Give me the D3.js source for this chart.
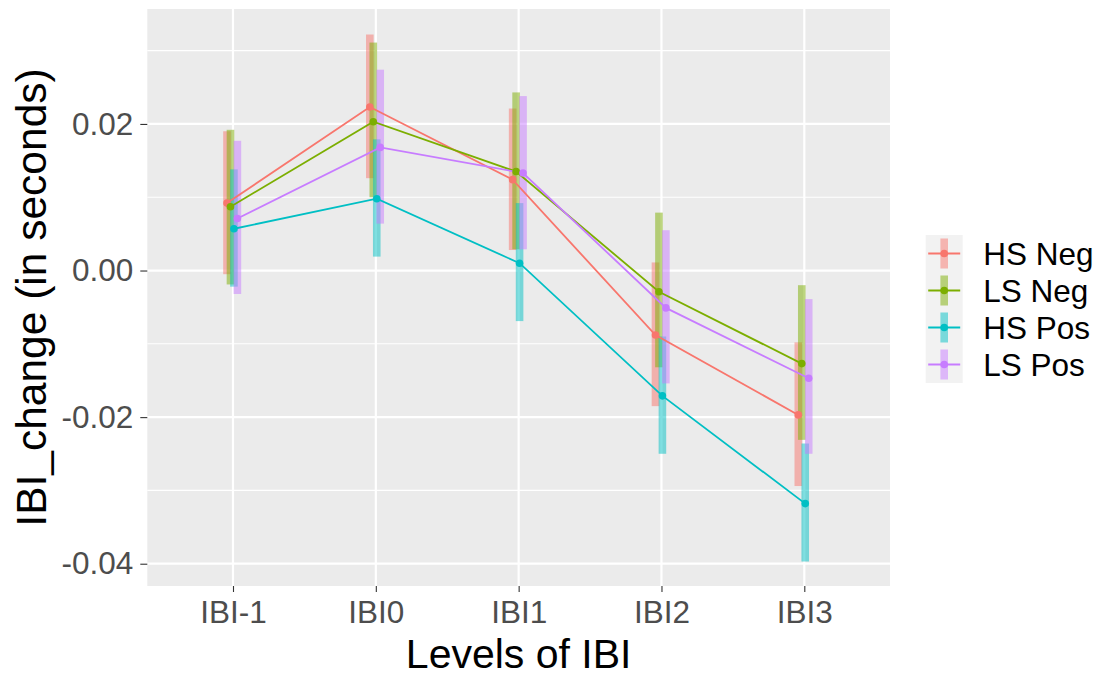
<!DOCTYPE html>
<html>
<head>
<meta charset="utf-8">
<script src="https://cdn.jsdelivr.net/npm/d3@7"></script>
<style>
  body { margin: 0; background: #ffffff; }
  svg { display: block; font-family: "Liberation Sans", Arial, sans-serif; }
</style>
</head>
<body>
<div id="grafico"></div>
<script>
// Datos del gráfico
const niveles = ["IBI-1", "IBI0", "IBI1", "IBI2", "IBI3"];
const grupos = ["HS Neg", "LS Neg", "HS Pos", "LS Pos"];
const colores = ["#F8766D", "#7CAE00", "#00BFC4", "#C77CFF"];

const hsNegMedia = [0.0092, 0.0223, 0.0124, -0.0088, -0.0197];
const hsNegInf = [-0.0005, 0.0126, 0.0028, -0.0185, -0.0294];
const hsNegSup = [0.0190, 0.0322, 0.0221, 0.0011, -0.0098];

const lsNegMedia = [0.0087, 0.0203, 0.0135, -0.0029, -0.0127];
const lsNegInf = [-0.0019, 0.0100, 0.0029, -0.0132, -0.0231];
const lsNegSup = [0.0192, 0.0311, 0.0243, 0.0079, -0.0020];

const hsPosMedia = [0.0057, 0.0098, 0.0010, -0.0171, -0.0318];
const hsPosInf = [-0.0022, 0.0019, -0.0069, -0.0250, -0.0397];
const hsPosSup = [0.0138, 0.0179, 0.0092, -0.0090, -0.0236];

const lsPosMedia = [0.0071, 0.0168, 0.0133, -0.0051, -0.0147];
const lsPosInf = [-0.0032, 0.0064, 0.0029, -0.0154, -0.0250];
const lsPosSup = [0.0177, 0.0274, 0.0238, 0.0055, -0.0039];

const ticksY = [-0.04, -0.02, 0.00, 0.02];
const ticksMenoresY = [-0.03, -0.01, 0.01, 0.03];

// Armar las series
const series = [
  { grupo: grupos[0], color: colores[0], media: hsNegMedia, inf: hsNegInf, sup: hsNegSup },
  { grupo: grupos[1], color: colores[1], media: lsNegMedia, inf: lsNegInf, sup: lsNegSup },
  { grupo: grupos[2], color: colores[2], media: hsPosMedia, inf: hsPosInf, sup: hsPosSup },
  { grupo: grupos[3], color: colores[3], media: lsPosMedia, inf: lsPosInf, sup: lsPosSup }
];

const ancho = 1101;
const alto = 678;
const panel = { izq: 147.3, der: 890, arriba: 9, abajo: 586 };

const svg = d3.select("#grafico")
  .append("svg")
  .attr("width", ancho)
  .attr("height", alto);

// Escalas
const x = d3.scalePoint()
  .domain(niveles)
  .range([panel.izq, panel.der])
  .padding(0.6);

const dodge = d3.scalePoint()
  .domain(grupos)
  .range([-6, 4.4]);

const y = d3.scaleLinear()
  .domain([-0.04304, 0.03568])
  .range([panel.abajo, panel.arriba]);

const formato = d3.formatLocale({ decimal: ".", thousands: ",", grouping: [3], currency: ["", ""], minus: "-" }).format(".2f");

// Fondo del panel
svg.append("rect")
  .attr("x", panel.izq)
  .attr("y", panel.arriba)
  .attr("width", panel.der - panel.izq)
  .attr("height", panel.abajo - panel.arriba)
  .attr("fill", "#EBEBEB");

// Cuadrícula
svg.selectAll(".menor")
  .data(ticksMenoresY)
  .enter()
  .append("line")
  .attr("x1", panel.izq)
  .attr("x2", panel.der)
  .attr("y1", d => y(d))
  .attr("y2", d => y(d))
  .attr("stroke", "#ffffff")
  .attr("stroke-width", 1.1);

svg.selectAll(".mayorY")
  .data(ticksY)
  .enter()
  .append("line")
  .attr("x1", panel.izq)
  .attr("x2", panel.der)
  .attr("y1", d => y(d))
  .attr("y2", d => y(d))
  .attr("stroke", "#ffffff")
  .attr("stroke-width", 2.2);

svg.selectAll(".mayorX")
  .data(niveles)
  .enter()
  .append("line")
  .attr("x1", d => x(d))
  .attr("x2", d => x(d))
  .attr("y1", panel.arriba)
  .attr("y2", panel.abajo)
  .attr("stroke", "#ffffff")
  .attr("stroke-width", 2.2);

// Barras de error
series.forEach((s) => {
  niveles.forEach((nivel, i) => {
    svg.append("rect")
      .attr("x", x(nivel) + dodge(s.grupo) - 3.8)
      .attr("y", y(s.sup[i]))
      .attr("width", 7.6)
      .attr("height", y(s.inf[i]) - y(s.sup[i]))
      .attr("fill", s.color)
      .attr("fill-opacity", 0.5);
  });
});

// Líneas
const linea = d3.line()
  .x(d => d.x)
  .y(d => d.y);

series.forEach((s) => {
  const puntos = niveles.map((nivel, i) => ({ x: x(nivel) + dodge(s.grupo), y: y(s.media[i]) }));
  svg.append("path")
    .attr("d", linea(puntos))
    .attr("fill", "none")
    .attr("stroke", s.color)
    .attr("stroke-width", 1.8);
});

// Puntos
series.forEach((s) => {
  niveles.forEach((nivel, i) => {
    svg.append("circle")
      .attr("cx", x(nivel) + dodge(s.grupo))
      .attr("cy", y(s.media[i]))
      .attr("r", 3.8)
      .attr("fill", s.color);
  });
});

// Ejes
const ejeY = svg.append("g")
  .attr("transform", `translate(${panel.izq},0)`)
  .call(d3.axisLeft(y).tickValues(ticksY).tickFormat(formato).tickSize(7).tickPadding(7));

const ejeX = svg.append("g")
  .attr("transform", `translate(0,${panel.abajo})`)
  .call(d3.axisBottom(x).tickSize(6).tickPadding(9));

[ejeY, ejeX].forEach((eje) => {
  eje.select(".domain").remove();
  eje.selectAll(".tick line").attr("stroke", "#333333").attr("stroke-width", 1.1);
  eje.selectAll(".tick text")
    .attr("fill", "#4D4D4D")
    .style("font-size", "31.5px")
    .style("font-family", "'Liberation Sans', Arial, sans-serif");
});

// Títulos de ejes
svg.append("text")
  .attr("x", (panel.izq + panel.der) / 2)
  .attr("y", 668)
  .attr("text-anchor", "middle")
  .attr("fill", "#000000")
  .style("font-size", "41px")
  .text("Levels of IBI");

svg.append("text")
  .attr("transform", `translate(46,${(panel.arriba + panel.abajo) / 2}) rotate(-90)`)
  .attr("text-anchor", "middle")
  .attr("fill", "#000000")
  .style("font-size", "42.5px")
  .text("IBI_change (in seconds)");

// Leyenda
const leyenda = svg.append("g")
  .attr("transform", "translate(925.7,235)");

const tamClave = 37;

series.forEach((s, i) => {
  const g = leyenda.append("g")
    .attr("transform", `translate(0,${i * tamClave})`);

  g.append("rect")
    .attr("width", tamClave)
    .attr("height", tamClave)
    .attr("fill", "#F2F2F2");

  g.append("rect")
    .attr("x", tamClave / 2 - 3.8)
    .attr("y", 3.5)
    .attr("width", 7.6)
    .attr("height", tamClave - 7)
    .attr("fill", s.color)
    .attr("fill-opacity", 0.5);

  g.append("line")
    .attr("x1", 2.5)
    .attr("x2", tamClave - 2.5)
    .attr("y1", tamClave / 2)
    .attr("y2", tamClave / 2)
    .attr("stroke", s.color)
    .attr("stroke-width", 1.8);

  g.append("circle")
    .attr("cx", tamClave / 2)
    .attr("cy", tamClave / 2)
    .attr("r", 3.8)
    .attr("fill", s.color);

  g.append("text")
    .attr("x", 57.5)
    .attr("y", tamClave / 2 + 11)
    .attr("fill", "#000000")
    .style("font-size", "31.5px")
    .text(s.grupo);
});
</script>
</body>
</html>
